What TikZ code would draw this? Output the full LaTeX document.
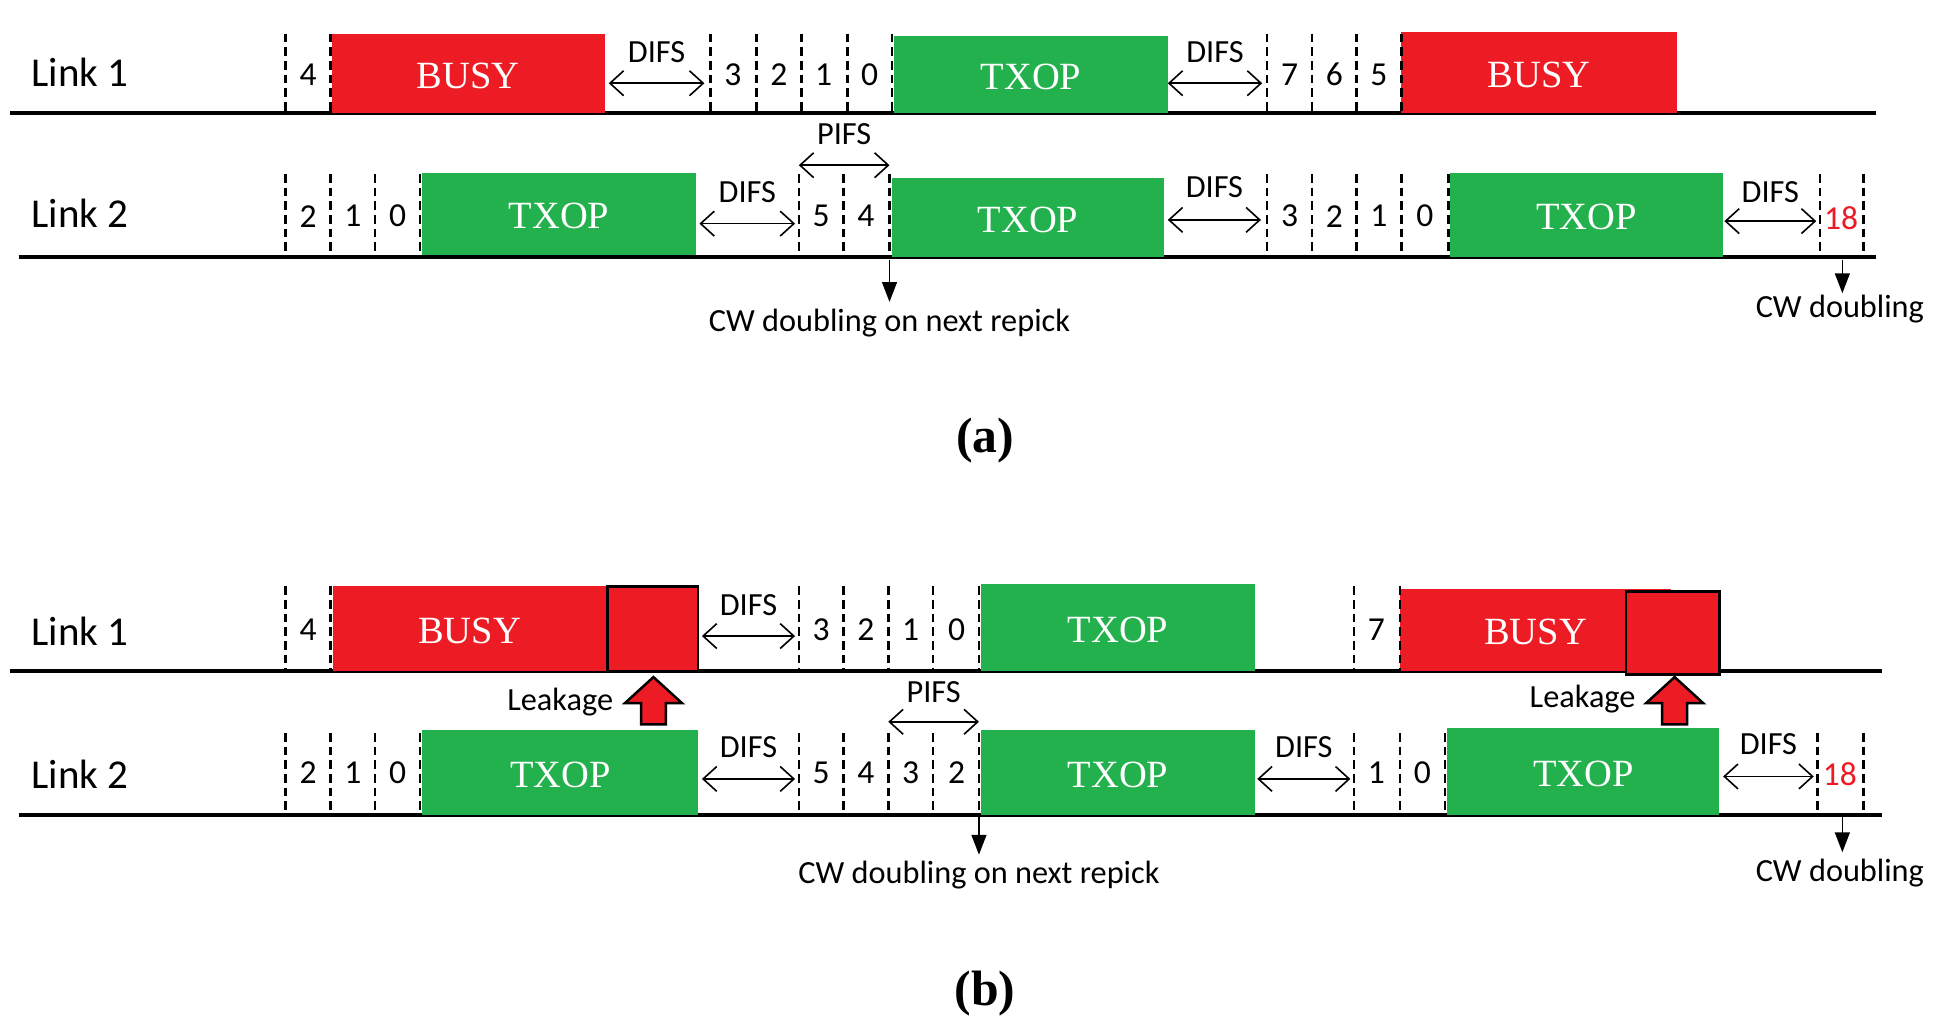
\documentclass[tikz,border=0pt]{standalone}
\usepackage{fontspec}
\setmainfont{Liberation Serif}
\newfontfamily\calf{Carlito}
\usetikzlibrary{arrows.meta}
\definecolor{bred}{HTML}{ED1C24}
\definecolor{bgreen}{HTML}{22B14C}
\begin{document}
\begin{tikzpicture}[x=1pt,y=-1pt,
 base/.style={line width=2.8pt},
 dsh/.style={line width=2pt,dash pattern=on 7pt off 4pt},
 box/.style={draw=none,inner sep=0,text=white,font=\fontsize{31}{31}\selectfont},
 lk/.style={font=\calf\fontsize{33}{33}\selectfont,anchor=west},
 dg/.style={font=\calf\fontsize{27}{27}\selectfont},
 lbl/.style={font=\calf\fontsize{26}{26}\selectfont},
 dar/.style={line width=1.3pt,{Straight Barb[length=11pt,width=20pt]}-{Straight Barb[length=11pt,width=20pt]}},
 dn/.style={line width=1.3pt,-{Triangle[length=16pt,width=12pt]}},
 leak/.style={fill=bred,draw=black,line width=2pt},
 capt/.style={font=\bfseries\fontsize{40}{40}\selectfont}]
\useasboundingbox (0,0) rectangle (1560,833);
\newcommand\bx[7]{\fill[#6] (#2,#3) rectangle (#4,#5);
 \node[box] (#1) at ({(#2+#4)/2},{(#3+#5)/2+2}) {#7};}
\newcommand\ds[3]{\foreach \x in {#1}{\draw[dsh] (\x,#2) -- (\x,#3);}}
\newcommand\dgs[2]{\foreach \x/\t in {#1}{\node[dg] at (\x,#2) {\t};}}
\newcommand\difs[5]{\coordinate (#1a) at (#2,#4); \coordinate (#1b) at (#3,#4);
 \draw[dar] (#1a) -- (#1b); \node[lbl] at ({(#2+#3)/2},#5) {#1};}
% ===== (a) =====
\draw[base] (8,91) -- (1510,91);
\draw[base] (15,207) -- (1510,207);
\node[lk] (l1a) at (22,58) {Link 1};
\node[lk] (l2a) at (22,172) {Link 2};
\bx{ba1}{267}{27}{487}{91}{bred}{BUSY}
\bx{ta1}{720}{29}{940}{91}{bgreen}{TXOP}
\bx{ba2}{1128}{26}{1350}{91}{bred}{BUSY}
\ds{230,266,572,609,645,682,718,1020,1056,1092,1128}{27}{91}
\dgs{248/4,590/3,627/2,663/1,700/0,1038/7,1074/6,1110/5}{60}
\difs{DIFS}{490}{567}{67}{42}
\difs{DIFS}{940}{1016}{67}{42}
\bx{ta2}{340}{139}{560}{205}{bgreen}{TXOP}
\bx{ta3}{718}{143}{937}{207}{bgreen}{TXOP}
\bx{ta4}{1167}{139}{1387}{207}{bgreen}{TXOP}
\ds{230,266,302,338,643,679,716,1020,1056,1092,1128,1166,1465,1500}{140}{207}
\dgs{248/2,284/1,320/0,661/5,697/4,1038/3,1074/2,1110/1,1147/0}{174}
\node[dg,text=bred] at (1482,176) {18};
\difs{DIFS}{563}{640}{180}{155}
\difs{PIFS}{643}{716}{133}{108}
\difs{DIFS}{940}{1015}{177}{151}
\difs{DIFS}{1388}{1462}{178}{155}
\coordinate (da1) at (716,209); \coordinate (da2) at (716,243);
\draw[dn] (da1) -- (da2);
\node[lbl] (ca1) at (716,260) {CW doubling on next repick};
\coordinate (db1) at (1483,209); \coordinate (db2) at (1483,236);
\draw[dn] (db1) -- (db2);
\node[lbl] (ca2) at (1481,249) {CW doubling};
\node[capt] (capa) at (793,355) {(a)};
% ===== (b) =====
\draw[base] (8,540) -- (1515,540);
\draw[base] (15,656) -- (1515,656);
\node[lk] (l1b) at (22,508) {Link 1};
\node[lk] (l2b) at (22,623) {Link 2};
\bx{bb1}{268}{472}{488}{540}{bred}{BUSY}
\draw[leak] (489,472) rectangle (562,540);
\bx{tb1}{790}{470}{1010}{540}{bgreen}{TXOP}
\bx{bb2}{1127}{474}{1345}{540}{bred}{BUSY}
\draw[leak] (1309,476) rectangle (1384,543);
\ds{230,266,643,679,715,751,788,1090,1127}{472}{540}
\dgs{248/4,661/3,697/2,733/1,770/0,1108/7}{507}
\difs{DIFS}{565}{640}{512}{487}
\bx{tb2}{340}{588}{562}{656}{bgreen}{TXOP}
\bx{tb3}{790}{588}{1010}{656}{bgreen}{TXOP}
\bx{tb4}{1165}{586}{1384}{656}{bgreen}{TXOP}
\ds{230,266,302,338,643,679,715,751,788,1090,1127,1163,1463,1500}{590}{656}
\dgs{248/2,284/1,320/0,661/5,697/4,733/3,770/2,1108/1,1145/0}{622}
\node[dg,text=bred] at (1481,623) {18};
\difs{DIFS}{565}{640}{627}{601}
\difs{PIFS}{715}{788}{581}{557}
\difs{DIFS}{1012}{1087}{627}{601}
\difs{DIFS}{1387}{1460}{625}{599}
\foreach \ax in {526,1348}{
 \draw[leak] (\ax,545) -- (\ax+23,566) -- (\ax+10,566) -- (\ax+10,583) -- (\ax-10,583) -- (\ax-10,566) -- (\ax-23,566) -- cycle;}
\node[lbl,anchor=east] (lt1) at (497,565) {Leakage};
\node[lbl,anchor=east] (lt2) at (1320,563) {Leakage};
\coordinate (dc1) at (788,658); \coordinate (dc2) at (788,688);
\draw[dn] (dc1) -- (dc2);
\node[lbl] (cb1) at (788,704) {CW doubling on next repick};
\coordinate (dd1) at (1483,658); \coordinate (dd2) at (1483,686);
\draw[dn] (dd1) -- (dd2);
\node[lbl] (cb2) at (1481,703) {CW doubling};
\node[capt] (capb) at (793,800) {(b)};
\end{tikzpicture}
\end{document}
